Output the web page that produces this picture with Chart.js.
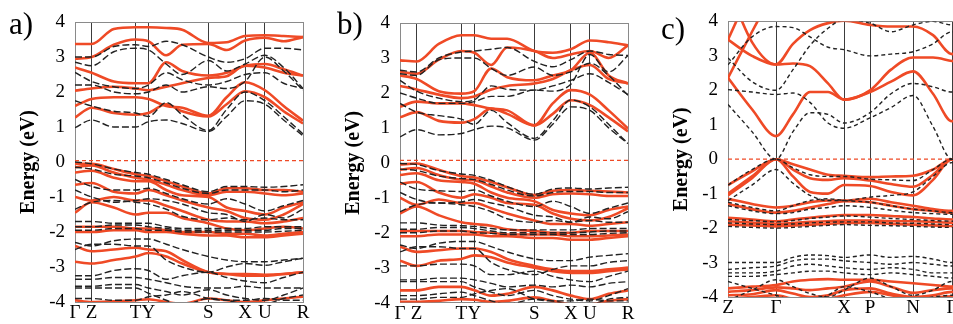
<!DOCTYPE html>
<html>
<head>
<meta charset="utf-8">
<script src="https://cdn.jsdelivr.net/npm/chart.js@4.4.1/dist/chart.umd.min.js"></script>
<style>
html, body { margin: 0; padding: 0; background: #fff; overflow: hidden; width: 953px; height: 324px; }
canvas { position: absolute; top: 0; }
.tag { position: absolute; font-family: "Liberation Serif", serif; font-size: 31px; line-height: 1; color: #000; }
</style>
</head>
<body>
<canvas id="chartA" width="320" height="324" style="left:0px"></canvas>
<canvas id="chartB" width="320" height="324" style="left:320px"></canvas>
<canvas id="chartC" width="330" height="324" style="left:640px"></canvas>
<div class="tag" style="left:9px;top:8px">a)</div>
<div class="tag" style="left:337px;top:8px">b)</div>
<div class="tag" style="left:661px;top:13px">c)</div>
<script>
// k-path sample points and high-symmetry ticks
const kA = [0, 0.073, 0.17, 0.266, 0.322, 0.40, 0.47, 0.585, 0.665, 0.746, 0.833, 0.915, 1];
const kB = [0, 0.073, 0.17, 0.269, 0.326, 0.40, 0.47, 0.589, 0.67, 0.749, 0.833, 0.915, 1];
const kC = [0, 24, 48, 65, 82, 100, 116, 142, 163, 185, 205, 224, 240];
const ticksA = [0, 0.073, 0.266, 0.322, 0.585, 0.746, 0.833, 1];
const ticksB = [0, 0.073, 0.269, 0.326, 0.589, 0.749, 0.833, 1];
const ticksC = [0, 48, 116, 142, 185, 224];
const labelsA = ['Γ', 'Z', 'T', 'Y', 'S', 'X', 'U', 'R'];
const labelsB = ['Γ', 'Z', 'T', 'Y', 'S', 'X', 'U', 'R'];
const labelsC = ['Z', 'Γ', 'X', 'P', 'N', 'Γ'];

// panel a - red (solid) bands
const redA = [
  [3.37, 3.37, 3.80, 3.85, 3.85, 3.83, 3.78, 3.40, 3.42, 3.60, 3.62, 3.60, 3.57],
  [2.95, 3.00, 3.35, 3.50, 3.45, 3.05, 3.35, 3.37, 3.20, 3.47, 3.55, 3.45, 3.57],
  [2.70, 2.55, 2.30, 2.25, 2.25, 2.85, 2.60, 2.47, 2.55, 2.75, 2.80, 2.65, 2.47],
  [2.04, 2.10, 2.15, 2.10, 2.05, 2.15, 2.25, 2.40, 2.45, 2.75, 2.70, 2.55, 2.47],
  [1.60, 1.80, 1.85, 1.85, 1.80, 1.60, 1.55, 1.32, 1.85, 2.28, 2.05, 1.60, 1.18],
  [1.27, 1.55, 1.40, 1.35, 1.40, 1.65, 1.45, 1.30, 1.65, 2.02, 1.85, 1.45, 1.10],
  [-0.05, -0.05, -0.20, -0.35, -0.40, -0.55, -0.70, -0.90, -0.75, -0.75, -0.80, -0.80, -0.85],
  [-0.15, -0.10, -0.30, -0.45, -0.50, -0.65, -0.80, -0.95, -0.85, -0.85, -0.90, -0.95, -0.90],
  [-0.30, -0.25, -0.45, -0.55, -0.55, -0.80, -0.95, -1.00, -1.30, -1.40, -1.50, -1.30, -1.15],
  [-0.65, -0.60, -0.85, -0.90, -0.80, -0.95, -1.10, -1.30, -1.40, -1.60, -1.65, -1.50, -1.20],
  [-1.00, -1.10, -1.00, -1.10, -1.10, -1.25, -1.40, -1.65, -1.70, -1.70, -1.75, -1.70, -1.60],
  [-1.45, -1.15, -1.30, -1.50, -1.45, -1.45, -1.60, -1.75, -1.90, -1.95, -1.90, -1.85, -1.90],
  [-1.85, -1.85, -1.85, -1.90, -1.90, -1.95, -2.00, -2.00, -2.05, -2.05, -2.10, -2.05, -2.00],
  [-2.00, -2.00, -1.95, -1.95, -2.00, -2.00, -2.05, -2.10, -2.10, -2.15, -2.15, -2.10, -2.05],
  [-2.40, -2.55, -2.50, -2.45, -2.50, -2.55, -2.80, -3.15, -3.20, -3.25, -3.25, -3.20, -3.15],
  [-2.85, -2.90, -2.80, -2.70, -2.60, -2.70, -2.90, -3.15, -3.20, -3.20, -3.22, -3.20, -3.15],
  [-3.95, -4.00, -3.98, -3.95, -3.92, -4.00, -4.05, -3.90, -3.95, -4.00, -3.95, -3.90, -3.85]
];
// panel a - black (dashed) bands
const blackA = [
  [3.00, 3.00, 3.30, 3.35, 3.30, 3.45, 3.35, 3.00, 2.85, 2.95, 3.25, 3.25, 3.20],
  [2.85, 2.75, 3.15, 3.25, 3.20, 2.80, 2.50, 2.90, 2.60, 2.80, 3.05, 2.70, 2.10],
  [2.56, 2.30, 2.15, 2.10, 2.20, 2.55, 2.35, 2.20, 2.30, 2.50, 2.55, 2.25, 2.10],
  [2.20, 2.20, 2.00, 1.95, 2.00, 2.20, 2.00, 2.15, 2.10, 2.30, 3.00, 2.60, 2.05],
  [1.75, 1.60, 1.45, 1.40, 1.30, 1.70, 1.35, 0.90, 1.50, 2.00, 1.75, 1.30, 0.80],
  [0.98, 1.20, 1.00, 1.00, 1.15, 1.20, 1.10, 0.87, 1.30, 1.75, 1.65, 1.20, 0.75],
  [0.00, -0.05, -0.20, -0.30, -0.35, -0.50, -0.65, -0.85, -0.70, -0.70, -0.72, -0.70, -0.65],
  [-0.15, -0.20, -0.35, -0.40, -0.45, -0.60, -0.75, -0.90, -0.80, -0.80, -0.80, -0.85, -0.80],
  [-0.50, -0.70, -0.80, -0.80, -0.75, -0.90, -1.05, -1.20, -1.05, -1.20, -1.40, -1.25, -1.10],
  [-0.80, -1.00, -1.15, -1.10, -1.05, -1.10, -1.20, -1.45, -1.50, -1.70, -1.50, -1.60, -1.35],
  [-1.35, -1.15, -1.10, -1.15, -1.20, -1.35, -1.55, -1.65, -1.60, -1.65, -1.60, -1.65, -1.65],
  [-1.70, -1.70, -1.75, -1.75, -1.75, -1.85, -1.90, -1.90, -1.90, -1.90, -1.85, -1.85, -1.85],
  [-1.85, -1.85, -1.80, -1.80, -1.85, -1.90, -1.95, -1.95, -1.95, -1.95, -1.95, -1.90, -1.90],
  [-1.95, -1.95, -1.90, -1.90, -1.95, -1.95, -2.00, -2.00, -2.00, -2.00, -2.00, -1.98, -1.95],
  [-2.30, -2.40, -2.25, -2.20, -2.20, -2.35, -2.50, -2.70, -2.80, -2.85, -2.85, -2.80, -2.75],
  [-2.50, -2.35, -2.35, -2.40, -2.40, -2.80, -3.00, -3.15, -3.00, -2.90, -2.95, -2.85, -2.75],
  [-3.25, -3.25, -3.10, -3.05, -3.10, -3.35, -3.25, -3.15, -3.30, -3.40, -3.45, -3.30, -3.15],
  [-3.35, -3.35, -3.30, -3.30, -3.35, -3.45, -3.55, -3.60, -3.60, -3.55, -3.60, -3.60, -3.60],
  [-3.55, -3.55, -3.50, -3.50, -3.60, -3.70, -3.80, -3.65, -3.80, -3.90, -3.95, -3.80, -3.60],
  [-3.60, -3.60, -3.60, -3.60, -3.75, -3.95, -4.10, -3.90, -3.95, -4.05, -4.05, -3.90, -3.80],
  [-3.90, -3.90, -3.95, -3.95, -3.85, -3.80, -3.70, -3.90, -3.95, -3.95, -3.90, -3.95, -3.95]
];

// panel b
const redB = [
  [2.93, 2.90, 3.40, 3.65, 3.65, 3.55, 3.55, 3.20, 3.15, 3.25, 3.50, 3.45, 3.36],
  [2.60, 2.55, 2.95, 3.20, 3.15, 2.80, 3.30, 3.20, 3.00, 3.10, 3.20, 3.00, 3.36],
  [2.50, 2.40, 2.05, 1.98, 2.05, 2.70, 2.45, 2.36, 2.50, 2.65, 3.15, 2.50, 2.27],
  [2.20, 2.10, 1.95, 1.85, 1.90, 2.10, 2.20, 2.27, 2.40, 2.65, 2.80, 2.40, 2.27],
  [1.60, 1.75, 1.70, 1.70, 1.65, 1.55, 1.50, 1.07, 1.70, 2.08, 1.95, 1.50, 0.98],
  [1.30, 1.45, 1.20, 1.15, 1.25, 1.55, 1.40, 1.07, 1.40, 1.79, 1.65, 1.30, 0.90],
  [-0.05, -0.02, -0.20, -0.38, -0.42, -0.55, -0.70, -0.92, -0.80, -0.78, -0.80, -0.82, -0.85],
  [-0.20, -0.15, -0.35, -0.48, -0.50, -0.68, -0.85, -1.00, -0.90, -0.88, -0.90, -0.95, -0.95],
  [-0.35, -0.30, -0.50, -0.55, -0.60, -0.85, -1.00, -1.10, -1.35, -1.45, -1.50, -1.35, -1.25],
  [-0.60, -0.55, -0.85, -1.00, -0.90, -1.00, -1.15, -1.20, -1.45, -1.60, -1.65, -1.55, -1.30],
  [-1.00, -1.20, -1.05, -1.15, -1.15, -1.30, -1.45, -1.65, -1.75, -1.75, -1.80, -1.75, -1.70],
  [-1.45, -1.25, -1.50, -1.70, -1.75, -1.80, -1.90, -1.95, -2.00, -2.00, -1.95, -1.95, -1.95],
  [-1.95, -1.95, -1.95, -1.95, -1.98, -2.00, -2.05, -2.05, -2.05, -2.10, -2.10, -2.08, -2.05],
  [-2.10, -2.10, -2.05, -2.05, -2.05, -2.10, -2.10, -2.15, -2.15, -2.20, -2.20, -2.15, -2.10],
  [-2.40, -2.55, -2.50, -2.45, -2.45, -2.55, -2.75, -2.95, -3.05, -3.10, -3.10, -3.05, -3.00],
  [-2.80, -2.95, -2.80, -2.75, -2.65, -2.70, -2.85, -3.00, -3.10, -3.15, -3.15, -3.10, -3.05],
  [-3.65, -3.65, -3.55, -3.55, -3.65, -3.80, -3.75, -3.55, -3.65, -3.80, -3.90, -3.75, -3.65],
  [-3.98, -3.98, -3.95, -3.90, -3.92, -3.98, -3.95, -3.85, -3.95, -4.05, -4.05, -3.95, -3.90]
];
const blackB = [
  [2.65, 2.60, 3.00, 3.17, 3.20, 3.25, 3.30, 2.90, 2.75, 2.95, 3.20, 3.10, 3.07],
  [2.55, 2.50, 2.95, 3.00, 3.00, 2.70, 2.50, 2.74, 2.50, 2.60, 2.85, 2.50, 1.93],
  [2.36, 2.05, 1.85, 1.75, 1.80, 2.20, 2.10, 2.08, 2.20, 2.36, 2.55, 2.30, 1.95],
  [2.00, 1.85, 1.70, 1.70, 1.75, 1.90, 1.90, 2.08, 2.05, 2.25, 3.10, 2.60, 3.07],
  [1.70, 1.45, 1.35, 1.25, 1.10, 1.50, 1.15, 0.70, 1.20, 1.80, 1.60, 1.10, 0.55],
  [0.74, 0.95, 0.80, 0.84, 0.95, 1.05, 1.00, 0.65, 1.10, 1.60, 1.50, 1.00, 0.55],
  [-0.02, -0.05, -0.22, -0.32, -0.36, -0.50, -0.68, -0.90, -0.75, -0.72, -0.75, -0.72, -0.70],
  [-0.18, -0.22, -0.38, -0.45, -0.48, -0.62, -0.78, -0.95, -0.85, -0.82, -0.82, -0.85, -0.85],
  [-0.55, -0.75, -0.80, -0.82, -0.78, -0.95, -1.10, -1.25, -1.10, -1.25, -1.45, -1.30, -1.15],
  [-0.85, -1.05, -1.15, -1.12, -1.05, -1.15, -1.25, -1.50, -1.55, -1.70, -1.55, -1.60, -1.40],
  [-1.40, -1.20, -1.15, -1.20, -1.25, -1.40, -1.60, -1.70, -1.65, -1.70, -1.65, -1.70, -1.70],
  [-1.72, -1.72, -1.78, -1.80, -1.82, -1.88, -1.92, -1.92, -1.92, -1.92, -1.88, -1.88, -1.88],
  [-1.90, -1.90, -1.85, -1.85, -1.88, -1.95, -2.00, -2.00, -2.00, -2.00, -1.98, -1.95, -1.95],
  [-2.00, -2.00, -1.95, -1.95, -2.00, -2.02, -2.05, -2.05, -2.05, -2.05, -2.05, -2.02, -2.00],
  [-2.35, -2.45, -2.30, -2.25, -2.25, -2.40, -2.55, -2.75, -2.80, -2.80, -2.70, -2.65, -2.60],
  [-2.55, -2.40, -2.40, -2.45, -2.45, -2.85, -3.05, -3.20, -3.05, -2.95, -2.95, -2.85, -2.80],
  [-2.95, -2.95, -2.90, -2.90, -2.95, -3.20, -3.20, -3.10, -3.25, -3.35, -3.40, -3.25, -3.10],
  [-3.35, -3.35, -3.30, -3.30, -3.35, -3.45, -3.55, -3.50, -3.55, -3.50, -3.55, -3.45, -3.40],
  [-3.40, -3.40, -3.40, -3.40, -3.55, -3.70, -3.80, -3.65, -3.80, -3.90, -3.95, -3.80, -3.60],
  [-3.80, -3.80, -3.75, -3.70, -3.80, -3.95, -4.05, -3.90, -3.95, -4.05, -4.05, -3.90, -3.85],
  [-3.90, -3.90, -3.85, -3.85, -3.75, -3.65, -3.60, -3.90, -3.95, -3.95, -3.90, -3.95, -3.95]
];

// panel c
const redC = [
  [2.36, 1.45, 0.67, 1.30, 1.95, 1.95, 1.73, 1.95, 2.25, 2.55, 1.90, 1.10, 1.40],
  [3.47, 3.00, 2.75, 2.78, 2.70, 2.20, 1.73, 2.00, 2.60, 2.95, 2.95, 2.85, 2.80],
  [2.36, 3.70, 5.00, null, null, null, null, null, null, null, null, null, null],
  [3.47, 5.00, null, null, null, null, null, null, null, null, null, null, null],
  [5.00, 3.40, 2.75, 3.35, 3.75, 3.95, 4.02, 3.90, 3.85, 3.85, 3.60, 3.05, 3.40],
  [-0.75, -0.35, 0.00, -0.15, -0.30, -0.45, -0.48, -0.52, -0.50, -0.48, -0.30, 0.00, -0.15],
  [-1.00, -0.50, 0.00, -0.30, -0.55, -0.60, -0.55, -0.62, -0.72, -0.80, -0.45, 0.00, -0.30],
  [-1.05, -0.55, 0.00, -0.50, -0.95, -1.00, -0.75, -0.78, -0.95, -1.05, -0.60, 0.00, -0.50],
  [-1.15, -1.30, -1.40, -1.35, -1.25, -1.20, -1.20, -1.15, -1.25, -1.35, -1.45, -1.50, -1.45],
  [-1.30, -1.45, -1.55, -1.50, -1.40, -1.30, -1.22, -1.25, -1.35, -1.45, -1.50, -1.55, -1.50],
  [-1.70, -1.75, -1.80, -1.75, -1.70, -1.65, -1.62, -1.62, -1.65, -1.68, -1.72, -1.75, -1.72],
  [-1.80, -1.84, -1.88, -1.85, -1.82, -1.80, -1.78, -1.78, -1.80, -1.80, -1.82, -1.84, -1.82],
  [-1.90, -1.92, -1.95, -1.92, -1.90, -1.88, -1.85, -1.85, -1.88, -1.90, -1.92, -1.94, -1.92],
  [-3.75, -3.70, -3.65, -3.55, -3.50, -3.48, -3.50, -3.50, -3.55, -3.60, -3.65, -3.70, -3.65],
  [-3.85, -3.80, -3.72, -3.75, -3.80, -3.75, -3.70, -3.55, -3.70, -3.88, -3.80, -3.75, -3.80],
  [-3.95, -3.92, -3.80, -3.90, -4.00, -3.95, -3.80, -3.75, -3.90, -4.00, -3.95, -3.85, -3.95],
  [-4.05, -4.00, -3.95, -4.05, -4.10, -4.05, -3.95, -3.85, -3.95, -4.05, -4.02, -3.98, -4.02]
];
const blackC = [
  [2.02, 1.95, 1.88, 1.92, 1.65, 1.05, 0.90, 1.20, 1.50, 1.85, 0.95, 0.00, 0.95],
  [1.59, 0.80, 0.00, 0.80, 1.35, 1.30, 1.05, 1.35, 1.90, 2.20, 2.10, 1.95, 2.10],
  [2.94, 2.25, 2.00, 2.60, 3.30, 3.80, 4.05, 3.95, 3.70, 3.90, 4.00, 3.90, 4.00],
  [2.74, 3.55, 3.85, 3.82, 3.55, 3.25, 3.18, 3.00, 3.05, 3.12, 3.35, 3.70, 3.35],
  [-0.75, -0.30, 0.00, -0.25, -0.45, -0.50, -0.50, -0.58, -0.60, -0.62, -0.30, 0.00, -0.25],
  [-1.20, -0.75, -0.30, -0.70, -1.05, -1.20, -1.20, -1.10, -1.05, -0.95, -0.50, -0.10, -0.60],
  [-1.25, -1.40, -1.50, -1.35, -1.20, -1.15, -1.20, -1.25, -1.35, -1.45, -1.50, -1.55, -1.50],
  [-1.35, -1.50, -1.58, -1.55, -1.45, -1.40, -1.35, -1.40, -1.48, -1.55, -1.58, -1.60, -1.58],
  [-1.75, -1.78, -1.82, -1.78, -1.72, -1.68, -1.65, -1.68, -1.72, -1.75, -1.78, -1.80, -1.78],
  [-1.85, -1.88, -1.90, -1.88, -1.85, -1.83, -1.82, -1.82, -1.85, -1.86, -1.88, -1.90, -1.88],
  [-1.95, -1.98, -2.00, -1.98, -1.95, -1.92, -1.90, -1.92, -1.93, -1.95, -1.97, -1.98, -1.97],
  [-3.00, -3.00, -3.00, -2.85, -2.78, -2.80, -2.85, -2.78, -2.85, -2.82, -2.90, -3.00, -2.90],
  [-3.20, -3.15, -3.10, -2.95, -2.90, -2.90, -2.95, -3.00, -3.05, -3.00, -3.05, -3.10, -3.05],
  [-3.30, -3.30, -3.25, -3.10, -3.05, -3.10, -3.15, -3.20, -3.15, -3.20, -3.30, -3.30, -3.30],
  [-3.40, -3.40, -3.35, -3.30, -3.25, -3.25, -3.30, -3.35, -3.30, -3.35, -3.40, -3.45, -3.40],
  [-4.10, -3.80, -3.50, -3.70, -3.90, -4.00, -3.80, -3.45, -3.70, -3.95, -3.80, -3.55, -3.80],
  [-3.55, -3.75, -3.95, -4.10, -4.15, -3.95, -3.70, -3.85, -4.05, -4.10, -4.00, -3.95, -4.00]
];

const RED = '#ef4a26';
const FONT = '"Liberation Serif", "Times New Roman", serif';

function bands(k, list, color, width, dash) {
  return list.map(b => ({
    data: k.map((x, i) => ({ x: x, y: b[i] })),
    borderColor: color,
    borderWidth: width,
    borderDash: dash,
    pointRadius: 0,
    fill: false,
    cubicInterpolationMode: 'monotone'
  }));
}

function makeChart(id, o) {
  const ds = []
    .concat(bands(o.k, o.black, '#222', 1.4, o.dash))
    .concat(bands(o.k, o.red, RED, 2.6, []));
  ds.push({
    data: [{ x: 0, y: o.zero }, { x: o.max, y: o.zero }],
    borderColor: RED, borderWidth: 1.3, borderDash: [4, 3], pointRadius: 0
  });
  new Chart(document.getElementById(id), {
    type: 'line',
    data: { datasets: ds },
    options: {
      responsive: false,
      animation: false,
      events: [],
      layout: { padding: o.pad },
      plugins: { legend: { display: false }, tooltip: { enabled: false } },
      scales: {
        x: {
          type: 'linear', min: 0, max: o.max,
          afterBuildTicks: s => { s.ticks = o.ticks.map(v => ({ value: v })); },
          afterFit: s => { s.height = o.xh; },
          ticks: {
            autoSkip: false, maxRotation: 0, padding: 0, color: '#000',
            font: { family: FONT, size: 19 },
            callback: (v, i) => o.labels[i]
          },
          grid: {
            drawTicks: false, lineWidth: 1,
            color: c => (c.tick && (c.tick.value === 0 || c.tick.value === o.max)) ? '#8a8a8a' : '#3c3c3c'
          },
          border: { color: '#8a8a8a' }
        },
        y: {
          min: -4, max: 4,
          afterFit: s => { s.width = o.yw; },
          ticks: { stepSize: 1, padding: 10, color: '#000', font: { family: FONT, size: 19 } },
          grid: {
            drawTicks: false,
            color: c => (c.tick && c.tick.value === 4) ? '#8a8a8a' : 'rgba(0,0,0,0)'
          },
          border: { color: '#8a8a8a' },
          title: {
            display: true, text: 'Energy (eV)', color: '#000', padding: 0,
            font: { family: FONT, size: 20, weight: 'bold' }
          }
        }
      }
    }
  });
}

makeChart('chartA', { k: kA, red: redA, black: blackA, ticks: ticksA, labels: labelsA, max: 1, zero: 0.04,
  dash: [7, 3], pad: { left: 17, right: 17, top: 22, bottom: 0 }, yw: 58, xh: 22 });
makeChart('chartB', { k: kB, red: redB, black: blackB, ticks: ticksB, labels: labelsB, max: 1, zero: 0.07,
  dash: [7, 3], pad: { left: 22, right: 12, top: 23, bottom: 0 }, yw: 58, xh: 21 });
makeChart('chartC', { k: kC, red: redC, black: blackC, ticks: ticksC, labels: labelsC, max: 240, zero: 0,
  dash: [4, 3], pad: { left: 30, right: 2, top: 20, bottom: 0 }, yw: 58, xh: 27 });
</script>
</body>
</html>
